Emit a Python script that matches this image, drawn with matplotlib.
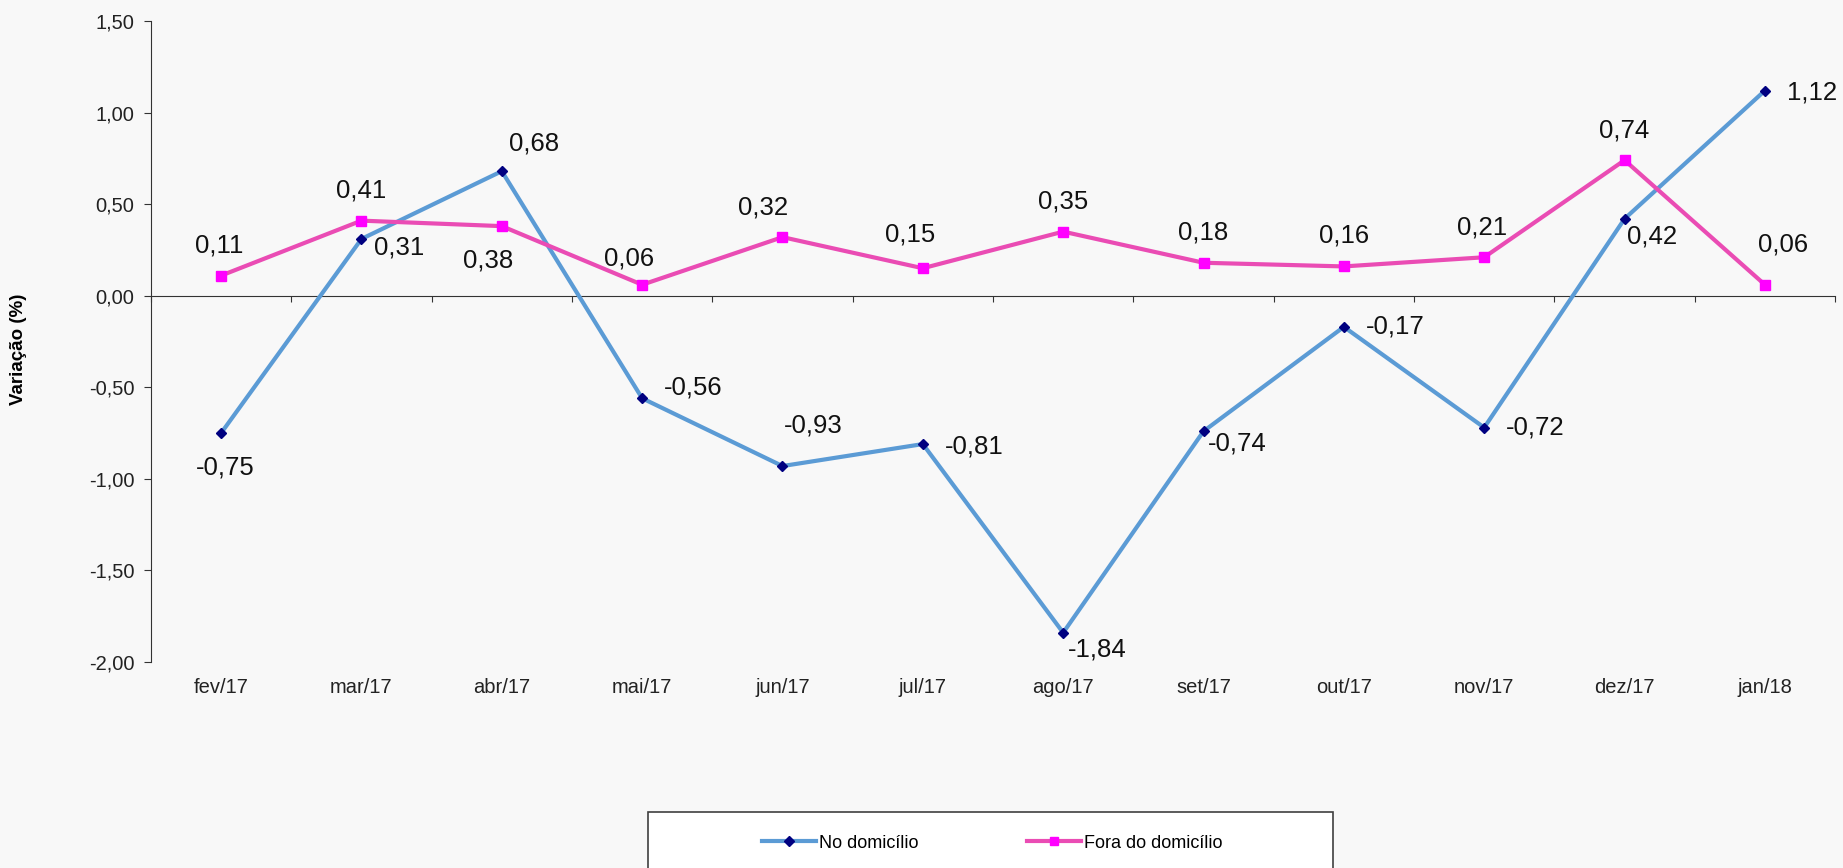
import matplotlib
matplotlib.use('Agg')
import matplotlib.pyplot as plt
from matplotlib.patches import Rectangle

plt.rcParams['font.family'] = ['Liberation Sans', 'DejaVu Sans']

# Dados
meses = ['fev/17', 'mar/17', 'abr/17', 'mai/17', 'jun/17', 'jul/17',
         'ago/17', 'set/17', 'out/17', 'nov/17', 'dez/17', 'jan/18']
no_domicilio = [-0.75, 0.31, 0.68, -0.56, -0.93, -0.81,
                -1.84, -0.74, -0.17, -0.72, 0.42, 1.12]
fora_domicilio = [0.11, 0.41, 0.38, 0.06, 0.32, 0.15,
                  0.35, 0.18, 0.16, 0.21, 0.74, 0.06]

# deslocamento dos rotulos (pontos)
off_no = [(3, -25), (27, -6.5), (23, 20), (37, 8), (22, 29), (37, -1.5),
          (24.5, -12), (24.5, -9), (37, 0), (37, 0), (19.5, -13), (34, -1.5)]
off_fora = [(-1.5, 21.5), (0, 21.5), (-9.5, -25), (-9.5, 19), (-14, 21.5),
            (-9, 24), (0, 21.5), (0, 22), (0, 22), (-1.5, 21.5), (0, 21.5),
            (13, 29)]

BG = '#f8f8f8'
AZUL = '#5b9bd5'
ROSA = '#ea4cb4'


def fmt(v):
    return f'{v:.2f}'.replace('.', ',')


def main():
    fig = plt.figure(figsize=(18.43, 8.68), dpi=100, facecolor=BG)
    ax = fig.add_axes([0.0819, 0.2373, 0.9138, 0.7385])
    ax.set_facecolor(BG)

    x = list(range(len(meses)))
    ax.plot(x, no_domicilio, color=AZUL, lw=3, marker='D', ms=5.5,
            mfc='#000080', mec='#000080', label='No domicílio', zorder=3)
    ax.plot(x, fora_domicilio, color=ROSA, lw=3, marker='s', ms=7,
            mfc='#ff00ff', mec='#ff00ff', label='Fora do domicílio', zorder=3)

    for i in x:
        ax.annotate(fmt(no_domicilio[i]), (i, no_domicilio[i]),
                    xytext=off_no[i], textcoords='offset points',
                    ha='center', va='center', fontsize=18.5, color='#111111')
        ax.annotate(fmt(fora_domicilio[i]), (i, fora_domicilio[i]),
                    xytext=off_fora[i], textcoords='offset points',
                    ha='center', va='center', fontsize=18.5, color='#111111')
        # rotulos das categorias embaixo
        ax.annotate(meses[i], (i, 0), xycoords=('data', 'axes fraction'),
                    xytext=(0, -18), textcoords='offset points',
                    ha='center', va='center', fontsize=14.5, color='#222222')

    ax.set_xlim(-0.5, len(meses) - 0.5)
    ax.set_ylim(-2.0, 1.5)

    ax.spines['top'].set_visible(False)
    ax.spines['right'].set_visible(False)
    ax.spines['bottom'].set_position(('data', 0))
    ax.spines['left'].set_color('#333333')
    ax.spines['bottom'].set_color('#333333')

    ax.set_xticks([i - 0.5 for i in range(len(meses) + 1)])
    ax.set_xticklabels([])
    ax.tick_params(axis='x', direction='out', length=4.5, color='#333333')

    yt = [-2.0, -1.5, -1.0, -0.5, 0.0, 0.5, 1.0, 1.5]
    ax.set_yticks(yt)
    ax.set_yticklabels([fmt(v) for v in yt])
    ax.tick_params(axis='y', direction='out', length=5, pad=7,
                   labelsize=14.5, labelcolor='#222222', color='#333333')

    fig.text(0.0103, 0.598, 'Variação (%)', rotation=90, ha='center',
             va='center', fontsize=13.5, fontweight='bold')

    # caixa da legenda (cortada embaixo)
    fig.patches.append(Rectangle((0.3516, -0.1), 0.3717, 0.1645,
                                 transform=fig.transFigure, facecolor='white',
                                 edgecolor='#404040', lw=1.2, zorder=0))
    h, l = ax.get_legend_handles_labels()
    fig.legend(h, l, loc='center left', bbox_to_anchor=(0.4135, 0.0288),
               ncol=2, frameon=False, fontsize=13, handlelength=3.0,
               handletextpad=0.15, columnspacing=6.0, borderpad=0,
               borderaxespad=0, markerscale=0.9)

    fig.savefig('out.png', dpi=100, facecolor=BG)


if __name__ == '__main__':
    main()
